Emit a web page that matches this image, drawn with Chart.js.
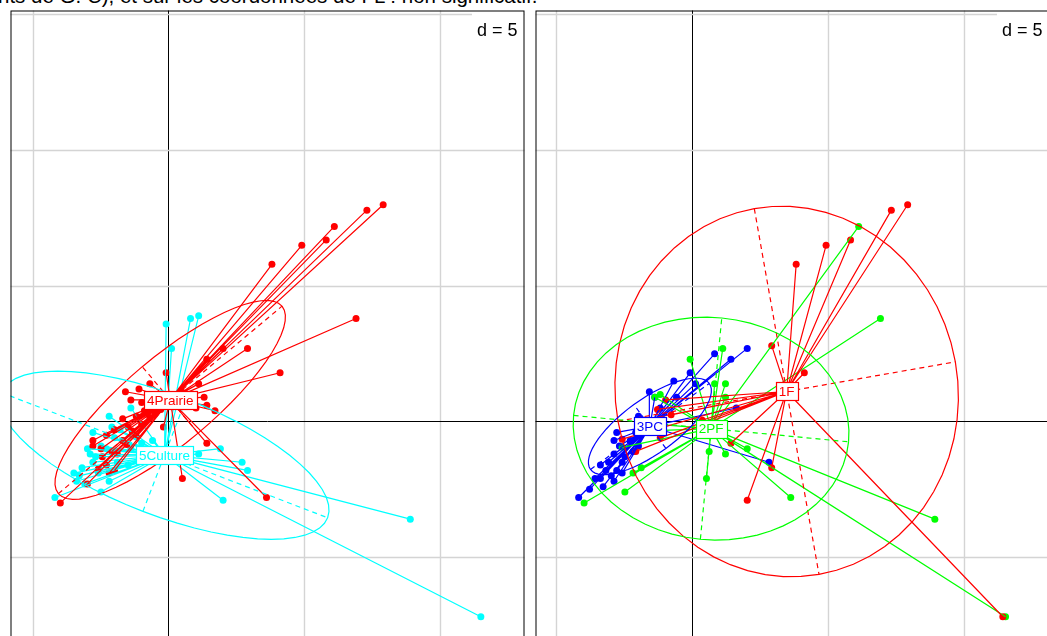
<!DOCTYPE html>
<html>
<head>
<meta charset="utf-8">
<script src="https://cdn.jsdelivr.net/npm/chart.js@4.4.0/dist/chart.umd.min.js"></script>
<style>
  html, body { margin: 0; padding: 0; background: #fff; overflow: hidden; width: 1047px; height: 636px; }
  #titre { position: absolute; left: -2px; top: -14px; font: 20.5px "Liberation Sans", Arial, sans-serif; line-height: 20.5px; white-space: nowrap; color: #000; }
  .panneau { position: absolute; top: 7px; }
</style>
</head>
<body>
<div id="titre">nts de G. C), et sur les coordonnées de FL : non significatif.</div>
<canvas id="gauche" class="panneau" width="521" height="660" style="left:7px"></canvas>
<canvas id="droite" class="panneau" width="521" height="660" style="left:532px"></canvas>
<script>
// ---- panneau gauche : facteur occupation (4Prairie / 5Culture)
const prairie = [[7.9,8.0],[7.3,7.8],[6.1,7.2],[5.8,6.7],[4.9,6.5],[3.8,5.8],[6.9,3.8],[2.9,2.7],[4.1,1.8],[2.0,2.7],
  [1.4,2.3],[1.1,1.4],[-0.1,1.8],[-0.7,1.4],[-1.1,1.2],[-1.6,1.1],[1.3,0.9],[-1.4,0.8],[-1.0,0.7],[1.4,0.6],
  [1.7,0.4],[-0.2,-0.2],[-0.5,0.3],[1.4,-0.8],[0.5,-2.1],[3.6,-2.8],[-4.0,-3.0],[-3.0,-2.3],[-2.2,-1.9],[-2.0,-1.8],
  [-2.8,-0.7],[-2.8,-0.9],[-2.0,-0.3],[-1.7,0.1],[-2.45,-1.3],[-2.1,-1.1],[-1.7,-0.7],[-1.35,-0.35],[-1.0,-0.1],
  [-2.6,-1.75],[-2.3,-1.6],[-1.55,-0.85],[-1.2,-0.55],[-0.7,0.15],[-0.3,0.45],[0.65,0.8],[0.8,1.0],[0.45,1.15],
  [-1.2,0.2],[-0.9,0.4],[-0.6,0.6],[-1.5,-0.2],[-2.3,-0.5],[-2.5,-1.0],[-1.9,-1.2],[0.2,0.9],[1.0,0.5]];
const culture = [[-0.1,3.6],[0.8,3.8],[1.1,3.9],[0.1,2.7],[-1.4,0.5],[-2.2,0.2],[-2.1,-0.2],[-2.8,-0.4],[-2.5,-0.9],
  [-2.9,-1.2],[-2.8,-1.5],[-3.2,-1.7],[-3.3,-2.0],[-3.4,-2.2],[-2.5,-2.6],[-4.2,-2.8],[1.9,-1.0],[1.1,-1.2],[2.7,-1.5],
  [2.9,-1.8],[2.0,-2.9],[8.9,-3.6],[11.5,-7.2],[-1.7,-0.7],[-1.4,-1.0],[-2.3,-1.0],[-1.9,-1.5],[-1.0,-0.8],
  [-2.6,-1.9],[-0.6,-0.7],[-1.8,-0.3],[-3.0,-1.0],[-2.7,-1.3],[-3.1,-2.3],[-2.2,-2.2],[-1.5,-1.6],[-0.8,-1.3],
  [-2.0,-0.6],[-3.5,-1.9]];
const centrePrairie = [0.05, 0.8];
const centreCulture = [-0.16, -1.24];
// ellipses : centre x, centre y, demi-axe 1, demi-axe 2, angle (degres)
const ellPrairie = [0.05, 0.8, 5.38, 1.6, 40];
const ellCulture = [-0.16, -1.24, 6.44, 2.22, -21];

// ---- panneau droit : facteur 1F / 2PF / 3PC
const foret = [[7.9,8.0],[7.3,7.8],[5.8,6.7],[4.9,6.5],[3.8,5.8],[2.9,2.8],[4.1,1.8],[2.9,-1.7],[2.0,-2.9],[1.4,-0.8],
  [-1.2,-0.6],[-2.1,-1.1],[-1.0,0.8],[11.4,-7.2],[-1.3,0.45],[-1.85,0.05],[-0.8,0.25],[-2.6,-0.65],[0.35,0.05]];
const pf = [[-0.1,2.3],[1.1,2.7],[1.2,1.4],[0.8,1.4],[1.2,0.9],[-1.2,1.0],[-1.4,0.9],[0.6,-1.1],[1.2,-1.2],[2.0,-1.0],
  [0.5,-2.1],[3.6,-2.8],[-2.5,-2.6],[-2.2,-1.9],[-1.9,-1.7],[-4.0,-3.0],[6.1,7.2],[6.9,3.8],[8.9,-3.6],[11.5,-7.2],
  [-1.85,-0.35],[-1.3,-0.1],[-2.6,-0.95]];
const pc = [[2.0,2.7],[1.4,2.3],[0.8,2.5],[-0.1,1.8],[0.1,1.4],[-0.7,1.5],[-1.6,1.1],[-1.4,0.9],[-0.6,0.9],[1.6,0.5],
  [2.8,-1.5],[-4.2,-2.8],[-2.9,-2.2],[-3.4,-2.1],[-3.2,-1.8],[-2.8,-1.8],[-2.9,-1.2],[-2.9,-0.7],[-2.8,-0.4],[-2.0,0.2],
  [-2.0,-0.9],[-2.6,-1.5],[-2.7,-0.9],[-2.3,-0.7],[-2.5,-1.3],[-3.0,-2.0],[-3.6,-2.1],[-3.1,-1.5],[-2.6,-1.9],
  [-3.3,-2.4],[-2.2,-1.1],[-3.4,-1.6],[-2.1,-0.4],[-1.2,0.5],[-3.8,-2.5]];
const centreForet = [3.45, 1.11];
const centrePF = [0.67, -0.26];
const centrePC = [-1.58, -0.18];
const ellForet = [3.45, 1.11, 6.85, 6.3, -80];
const ellPF = [0.67, -0.26, 5.08, 4.1, -5.5];
const ellPC = [-1.58, -0.18, 2.7, 1.0, 36];

const grille = 5; // d = 5

function etoile(centre, pts) {
  const out = [];
  pts.forEach(p => {
    out.push({x: centre[0], y: centre[1]}, {x: p[0], y: p[1]}, {x: null, y: null});
  });
  return out;
}

function tracerEllipse(ctx, sx, sy, e, couleur) {
  const [cx, cy, a, b, deg] = e;
  const t = deg * Math.PI / 180, c = Math.cos(t), s = Math.sin(t);
  const px = (u, v) => [sx.getPixelForValue(cx + u * c - v * s), sy.getPixelForValue(cy + u * s + v * c)];
  ctx.strokeStyle = couleur;
  ctx.lineWidth = 1.2;
  ctx.beginPath();
  for (let i = 0; i <= 60; i++) {
    const th = i / 60 * 2 * Math.PI;
    const p = px(a * Math.cos(th), b * Math.sin(th));
    if (i) ctx.lineTo(p[0], p[1]); else ctx.moveTo(p[0], p[1]);
  }
  ctx.stroke();
  ctx.setLineDash([5, 4]);
  ctx.beginPath();
  let p = px(-a, 0); ctx.moveTo(p[0], p[1]);
  p = px(a, 0); ctx.lineTo(p[0], p[1]);
  p = px(0, -b); ctx.moveTo(p[0], p[1]);
  p = px(0, b); ctx.lineTo(p[0], p[1]);
  ctx.stroke();
  ctx.setLineDash([]);
}

const cadre = {
  id: 'cadre',
  beforeDatasetsDraw(chart) {
    const {ctx, chartArea: ca, scales: {x, y}} = chart;
    ctx.save();
    ctx.fillStyle = '#fff';
    ctx.fillRect(ca.left, ca.top, ca.width, ca.height);
    const lignes = (axe, vertical) => {
      const vals = [];
      for (let v = Math.ceil(axe.min / grille) * grille; v <= axe.max; v += grille) vals.push(v);
      vals.sort((a, b) => Math.abs(b) - Math.abs(a)); // zero en dernier
      vals.forEach(v => {
        const p = Math.floor(axe.getPixelForValue(v)) + 0.5;
        ctx.strokeStyle = v === 0 ? '#000' : '#d4d4d4';
        ctx.lineWidth = v === 0 ? 1 : 1.4;
        ctx.beginPath();
        if (vertical) { ctx.moveTo(p, ca.top); ctx.lineTo(p, ca.bottom); }
        else { ctx.moveTo(ca.left, p); ctx.lineTo(ca.right, p); }
        ctx.stroke();
      });
    };
    lignes(x, true);
    lignes(y, false);
    ctx.restore();
  },
  afterDatasetsDraw(chart, args, opts) {
    const {ctx, chartArea: ca, scales: {x, y}} = chart;
    ctx.save();
    ctx.beginPath();
    ctx.rect(ca.left, ca.top, ca.width, ca.height);
    ctx.clip();
    opts.classes.forEach(k => tracerEllipse(ctx, x, y, k.ell, k.couleur));
    ctx.font = '13.5px "Liberation Sans", Arial, sans-serif';
    ctx.textAlign = 'center';
    ctx.textBaseline = 'middle';
    opts.classes.forEach(k => {
      const cx = x.getPixelForValue(k.centre[0]), cy = y.getPixelForValue(k.centre[1]);
      const w = Math.round(ctx.measureText(k.nom).width + 6), h = 18;
      const l = Math.round(cx - w / 2) + 0.5, t = Math.round(cy - h / 2) + 0.5;
      ctx.fillStyle = '#fff';
      ctx.fillRect(l, t, w, h);
      ctx.strokeStyle = k.couleur;
      ctx.lineWidth = 1.2;
      ctx.strokeRect(l, t, w, h);
      ctx.fillStyle = k.couleur;
      ctx.fillText(k.nom, cx, cy + 1);
    });
    // etiquette d = 5
    ctx.font = '18px "Liberation Sans", Arial, sans-serif';
    const txt = 'd = ' + grille;
    const tw = ctx.measureText(txt).width;
    const xr = ca.right - 7;
    ctx.fillStyle = '#fff';
    ctx.fillRect(xr - tw - 5, ca.top, tw + 12, 31);
    ctx.fillStyle = '#000';
    ctx.textAlign = 'right';
    ctx.textBaseline = 'alphabetic';
    ctx.fillText(txt, xr, ca.top + 25);
    ctx.restore();
    ctx.save();
    ctx.strokeStyle = '#000';
    ctx.lineWidth = 1;
    ctx.strokeRect(ca.left + 0.5, ca.top + 0.5, ca.width - 1, ca.height - 1);
    ctx.restore();
  }
};

function construire(id, xmin, xmax, classes) {
  const datasets = [];
  classes.forEach(k => {
    datasets.push({
      data: etoile(k.centre, k.pts), showLine: true, spanGaps: false,
      borderColor: k.couleur, borderWidth: 1.2, pointRadius: 0, pointHoverRadius: 0
    });
  });
  classes.forEach(k => {
    datasets.push({
      data: k.pts.map(p => ({x: p[0], y: p[1]})), showLine: false,
      backgroundColor: k.couleur, borderWidth: 0, pointRadius: 3.5, pointHoverRadius: 3.5
    });
  });
  new Chart(document.getElementById(id), {
    type: 'scatter',
    data: {datasets: datasets},
    options: {
      responsive: false,
      animation: false,
      events: [],
      layout: {padding: 0},
      plugins: {legend: {display: false}, tooltip: {enabled: false}, cadre: {classes: classes}},
      scales: {
        x: {type: 'linear', min: xmin, max: xmax, display: false},
        y: {type: 'linear', min: -8.924, max: 15.164, display: false}
      }
    },
    plugins: [cadre]
  });
}

construire('gauche', -5.836, 13.109, [
  {nom: '4Prairie', couleur: '#ff0000', pts: prairie, centre: centrePrairie, ell: ellPrairie},
  {nom: '5Culture', couleur: '#00ffff', pts: culture, centre: centreCulture, ell: ellCulture}
]);
construire('droite', -5.787, 13.117, [
  {nom: '1F', couleur: '#ff0000', pts: foret, centre: centreForet, ell: ellForet},
  {nom: '2PF', couleur: '#00ff00', pts: pf, centre: centrePF, ell: ellPF},
  {nom: '3PC', couleur: '#0000ff', pts: pc, centre: centrePC, ell: ellPC}
]);
</script>
</body>
</html>
